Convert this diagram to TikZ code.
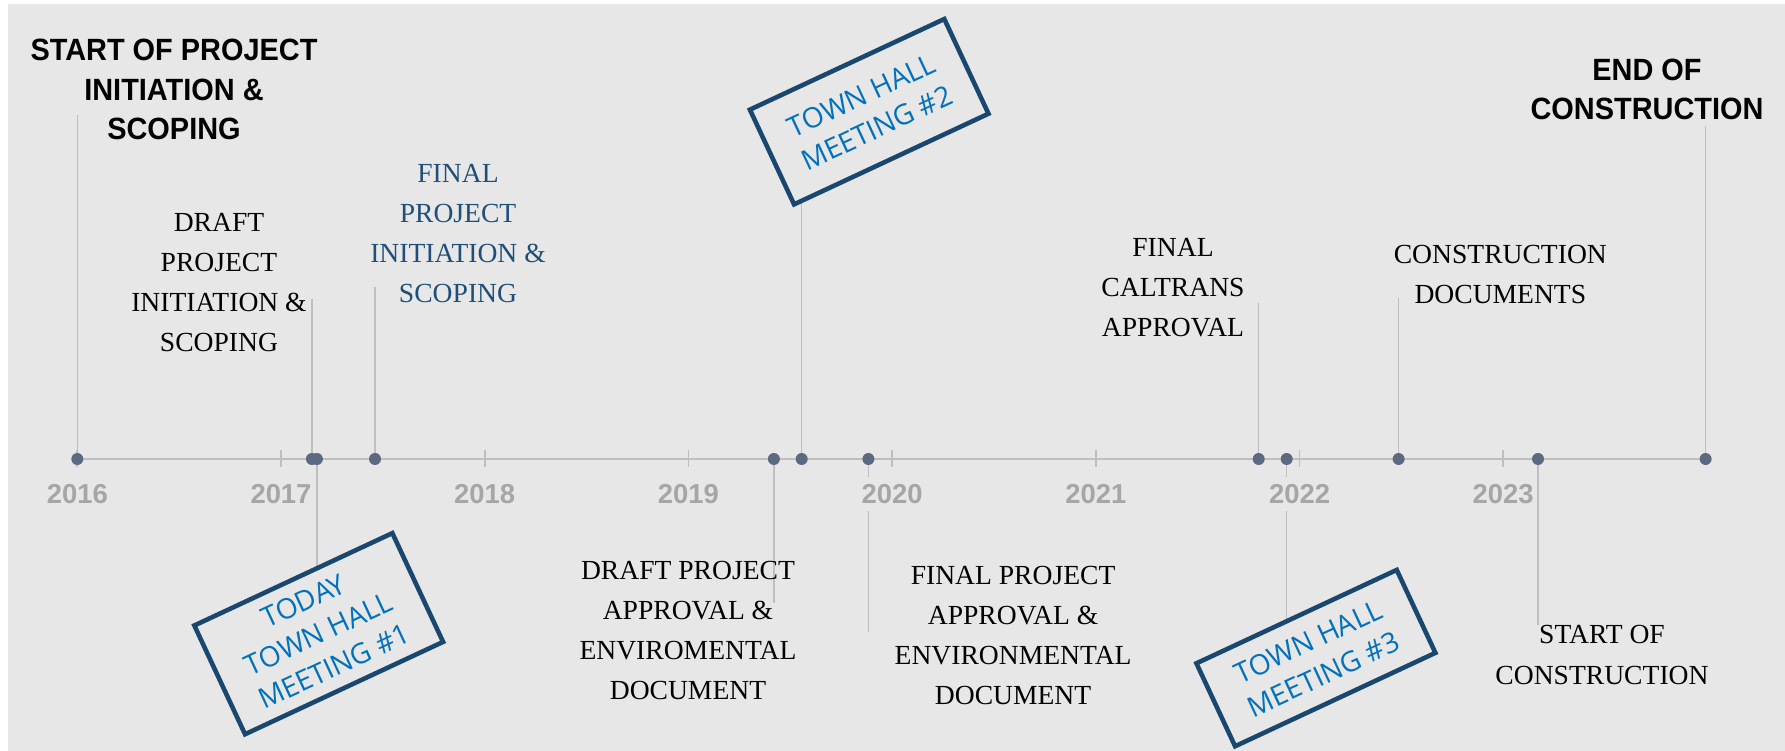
\documentclass[tikz,border=0pt]{standalone}
\usepackage{fontspec}
\setmainfont{Liberation Serif}
\newfontfamily\headfont[FakeStretch=0.94]{Liberation Sans}
\newfontfamily\yearfont{Liberation Sans}
\newfontfamily\boxfont{Open Sans}
\usetikzlibrary{positioning,backgrounds}

\definecolor{chartbg}{HTML}{E7E7E7}
\definecolor{linegray}{HTML}{BFBFBF}
\definecolor{yeargray}{HTML}{A6A6A6}
\definecolor{dotslate}{HTML}{5B6A80}
\definecolor{navy}{HTML}{1F4E79}
\definecolor{boxline}{HTML}{1A4770}
\definecolor{boxblue}{HTML}{0070C0}

\begin{document}
\begin{tikzpicture}[
	x=4.074cm, y=1cm,
	dot/.style={circle,fill=dotslate,inner sep=0pt,minimum size=0.24cm},
	leader/.style={draw=linegray,line width=0.85pt},
	yearlabel/.style={fill=chartbg,text=yeargray,inner xsep=0.02cm,inner ysep=0.14cm,font=\yearfont\bfseries\fontsize{15.6}{18}\selectfont},
	milestone/.style={align=center,inner sep=0pt,font=\fontsize{15.7}{22.8}\selectfont},
	bigmilestone/.style={align=center,inner sep=0pt,font=\headfont\bfseries\fontsize{17.5}{22.5}\selectfont},
	townhall/.style={draw=boxline,line width=2.6pt,fill=chartbg,text=boxblue,align=center,rotate=25,inner sep=0pt,font=\boxfont\fontsize{16}{20.5}\selectfont}
	]
	\useasboundingbox (-0.3795,9.18) rectangle (8.3834,-5.84);

	\node[dot] (m0) at (0,0) {};
	\node[dot] (m1) at (1.1517,0) {};
	\node[dot] (m2) at (1.1763,0) {};
	\node[dot] (m3) at (1.4615,0) {};
	\node[dot] (m4) at (3.4197,0) {};
	\node[dot] (m5) at (3.5562,0) {};
	\node[dot] (m6) at (3.8837,0) {};
	\node[dot] (m7) at (5.7997,0) {};
	\node[dot] (m8) at (5.9371,0) {};
	\node[dot] (m9) at (6.4865,0) {};
	\node[dot] (m10) at (7.1708,0) {};
	\node[dot] (m11) at (7.9936,0) {};

	\coordinate (e0) at (0,6.88);
	\coordinate (e1) at (1.1517,3.20);
	\coordinate (e3) at (1.4615,3.434);
	\coordinate (e4) at (3.4197,-2.886);
	\coordinate (e6) at (3.8837,-3.454);
	\coordinate (e7) at (5.7997,3.114);
	\coordinate (e9) at (6.4865,3.214);
	\coordinate (e10) at (7.1708,-3.32);
	\coordinate (e11) at (7.9936,6.66);

	\foreach \yr [count=\i from 0] in {2016,...,2023}
		\node[yearlabel] (y\i) at (\i,-0.704) {\yr};

	\node[bigmilestone] (startpis) at (0.4747,7.39) {START OF PROJECT\\INITIATION \&\\SCOPING};
	\node[milestone] (draftpis) at (0.6956,3.53) {DRAFT\\PROJECT\\INITIATION \&\\SCOPING};
	\node[milestone,text=navy] (finalpis) at (1.869,4.502) {FINAL\\PROJECT\\INITIATION \&\\SCOPING};
	\node[milestone] (draftpa) at (2.998,-3.43) {DRAFT PROJECT\\APPROVAL \&\\ENVIROMENTAL\\DOCUMENT};
	\node[milestone] (finalpa) at (4.594,-3.53) {FINAL PROJECT\\APPROVAL \&\\ENVIRONMENTAL\\DOCUMENT};
	\node[milestone] (caltrans) at (5.379,3.43) {FINAL\\CALTRANS\\APPROVAL};
	\node[milestone] (condocs) at (6.986,3.696) {CONSTRUCTION\\DOCUMENTS};
	\node[milestone] (startcon) at (7.485,-3.92) {START OF\\CONSTRUCTION};
	\node[bigmilestone] (endcon) at (7.706,7.39) {END OF\\CONSTRUCTION};

	\node[townhall,minimum width=4.37cm,minimum height=2.40cm] (th1) at (1.1851,-3.494) {TODAY\\TOWN HALL\\MEETING \#1};
	\node[townhall,minimum width=4.29cm,minimum height=2.09cm] (th2) at (3.8875,6.946) {TOWN HALL\\MEETING \#2};
	\node[townhall,minimum width=4.42cm,minimum height=1.83cm] (th3) at (6.0805,-3.982) {TOWN HALL\\MEETING \#3};

	\begin{pgfonlayer}{background}
		\fill[chartbg] (-0.3402,9.10) rectangle (8.3834,-5.84);
		\draw[linegray,line width=1.1pt] (m0.center) -- (m11.center);
		\foreach \i in {0,...,7}
			\draw[linegray,line width=1pt] (\i,0.17) -- (\i,-0.17);
		\path[leader]
		(m0) edge (e0)
		(m1) edge (e1)
		(m2) edge (m2 |- th1)
		(m3) edge (e3)
		(m4) edge (e4)
		(m5) edge (m5 |- th2)
		(m6) edge (e6)
		(m7) edge (e7)
		(m8) edge (m8 |- th3)
		(m9) edge (e9)
		(m10) edge (e10)
		(m11) edge (e11);
	\end{pgfonlayer}
\end{tikzpicture}
\end{document}
